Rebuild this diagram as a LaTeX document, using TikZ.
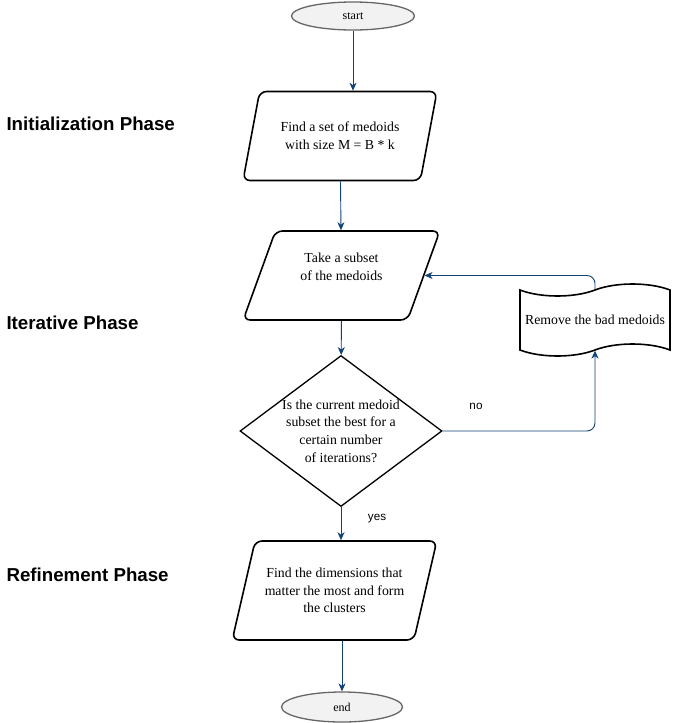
\documentclass[tikz,border=0pt]{standalone}
\usepackage{fontspec}
\setmainfont{Liberation Serif}
\setsansfont{Liberation Sans}
\usetikzlibrary{arrows.meta,positioning,shapes.geometric,shapes.symbols}
\definecolor{arrblue}{RGB}{16,65,120}
\definecolor{termfill}{RGB}{242,242,242}
\definecolor{termline}{RGB}{102,102,102}

\begin{document}
\begin{tikzpicture}[x=1pt, y=-1pt,
    term/.style={draw=termline, fill=termfill, ellipse, line width=1.3pt, inner sep=0pt, font=\fontsize{12}{14}\selectfont},
    io/.style={draw, trapezium, trapezium left angle=66, trapezium right angle=114, trapezium stretches=true, rounded corners=7pt, line width=1.6pt, inner sep=0pt, align=center, font=\fontsize{13.8}{17.7}\selectfont},
    dec/.style={draw, diamond, aspect=1.34, line width=1.3pt, inner sep=-6pt, align=center, font=\fontsize{13.8}{17.7}\selectfont},
    doc/.style={draw, tape, tape bend height=12pt, line width=1.6pt, inner sep=0pt, font=\fontsize{13.8}{17.7}\selectfont},
    phase/.style={anchor=west, font=\sffamily\bfseries\fontsize{18.7}{22}\selectfont},
    lbl/.style={font=\sffamily\fontsize{11.7}{14}\selectfont},
    arr/.style={-{Stealth[length=8pt, width=7pt, inset=2.5pt]}, line width=0.9pt, arrblue},
]
\useasboundingbox (0,0) rectangle (673,723);

% Phases
\node[phase] (ph1) at (3,124) {Initialization Phase};
\node[phase] (ph2) at (3,323) {Iterative Phase};
\node[phase] (ph3) at (3,575) {Refinement Phase};

% Flow
\node[term, minimum width=123pt, minimum height=28pt] (start) at (353,16) {start};
\node[io, minimum width=194pt, minimum height=89pt] (init) at (340,136) {Find a set of medoids\\with size M = B * k};
\node[io, minimum width=197pt, minimum height=89pt] (subset) at (341.5,275.5) {Take a subset\\of the medoids\\ ~};
\node[dec, minimum width=202pt, minimum height=151pt] (best) at (341,431) {Is the current medoid\\subset the best for a\\certain number\\of iterations?};
\node[doc, minimum width=150pt, minimum height=72pt] (remove) at (595,320) {Remove the bad medoids};
\node[io, minimum width=205pt, minimum height=99pt] (refine) at (334.5,590.5) {Find the dimensions that\\matter the most and form\\the clusters};
\node[term, minimum width=121pt, minimum height=30pt] (end) at (342,707) {end};

% Labels
\node[lbl] (no) at (476,406) {no};
\node[lbl] (yes) at (377,519) {yes};

% Arrows
\draw[arr] (start) -- (start |- init.north);
\draw[arr] (init) -- (subset);
\draw[arr] (subset) -- (best);
\draw[arr, rounded corners=8pt] (best.east) -| (remove.south);
\draw[arr, rounded corners=8pt] (remove.north) |- (subset.east);
\draw[arr] (best) -- (best |- refine.north);
\draw[arr] (end |- refine.south) -- (end);
\end{tikzpicture}
\end{document}
